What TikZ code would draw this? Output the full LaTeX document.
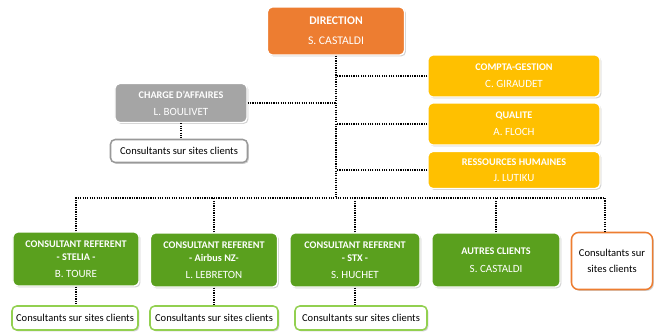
\documentclass[tikz,border=0pt]{standalone}
\usepackage{fontspec}
\setmainfont{Carlito}
\usepackage{tikz}
\usetikzlibrary{shadows}
\definecolor{orangedir}{RGB}{237,125,49}
\definecolor{grisca}{RGB}{165,165,165}
\definecolor{jaune}{RGB}{255,192,0}
\definecolor{vert}{RGB}{90,160,30}
\definecolor{vertclair}{RGB}{146,208,80}
\newcommand{\titre}[1]{{\fontsize{8.7}{11}\selectfont\bfseries #1}}
\newcommand{\nom}[1]{{\fontsize{9.4}{11}\selectfont #1}}

\begin{document}
\begin{tikzpicture}[x=0.03cm,y=-0.03cm,
box/.style={rounded corners=4pt,draw=white,line width=1.2pt,align=center,text=white,inner sep=0pt,
  font=\fontsize{9.4}{11}\selectfont,
  drop shadow={shadow xshift=1.2pt,shadow yshift=-1.2pt,fill=gray!70}},
sites/.style={box,fill=white,text=black,line width=1.3pt,font=\fontsize{9}{12}\selectfont},
lien/.style={line width=1pt,dash pattern=on 1pt off 1pt}]

\useasboundingbox (0,0) rectangle (654,331);

\node[box,fill=orangedir,minimum width=4.11cm,minimum height=1.44cm,font=\fontsize{10}{17}\selectfont] (dir) at (336,31) {\textbf{DIRECTION}\\S. CASTALDI};

\node[box,fill=grisca,minimum width=3.96cm,minimum height=1.17cm] (ca) at (181,103) {\titre{CHARGE D'AFFAIRES}\\[3.5pt]\nom{L. BOULIVET}};
\node[sites,draw=gray!80,minimum width=4.11cm,minimum height=0.69cm] (ca2) at (179,151) {Consultants sur sites clients};

\node[box,fill=jaune,minimum width=5.16cm,minimum height=1.26cm] (cg) at (514,76) {\titre{COMPTA-GESTION}\\[3.5pt]\nom{C. GIRAUDET}};
\node[box,fill=jaune,minimum width=5.16cm,minimum height=1.26cm] (qu) at (514,124) {\titre{QUALITE}\\[3.5pt]\nom{A. FLOCH}};
\node[box,fill=jaune,minimum width=5.16cm,minimum height=1.11cm] (rh) at (514,170) {\titre{RESSOURCES HUMAINES}\\[2.5pt]\nom{J. LUTIKU}};

\node[box,fill=vert,minimum width=3.78cm,minimum height=1.62cm] (c1) at (76,259) {\titre{CONSULTANT REFERENT}\\\titre{- STELIA -}\\[3.5pt]\nom{B. TOURE}};
\node[box,fill=vert,minimum width=3.81cm,minimum height=1.62cm] (c2) at (214,260) {\titre{CONSULTANT REFERENT}\\\titre{- Airbus NZ-}\\[3.5pt]\nom{L. LEBRETON}};
\node[box,fill=vert,minimum width=3.9cm,minimum height=1.62cm] (c3) at (355,260) {\titre{CONSULTANT REFERENT}\\\titre{- STX -}\\[3.5pt]\nom{S. HUCHET}};
\node[box,fill=vert,minimum width=3.84cm,minimum height=1.62cm] (c4) at (496,260) {\titre{AUTRES CLIENTS}\\[4pt]\nom{S. CASTALDI}};
\node[sites,draw=orangedir,minimum width=2.43cm,minimum height=1.71cm,rounded corners=6pt,font=\fontsize{9}{14}\selectfont] (c5) at (612,261) {Consultants sur\\sites clients};

\node[sites,draw=vertclair,minimum width=3.78cm,minimum height=0.72cm] (s1) at (75,318) {Consultants sur sites clients};
\node[sites,draw=vertclair,minimum width=3.84cm,minimum height=0.72cm] (s2) at (214,318) {Consultants sur sites clients};
\node[sites,draw=vertclair,minimum width=3.96cm,minimum height=0.72cm] (s3) at (361,318) {Consultants sur sites clients};

\coordinate (bus) at (336,198);
\coordinate (b5) at (605,198);

\draw[lien] (dir.south) -- (bus);
\draw[lien] (ca.east) -- (ca.east -| dir.south);
\draw[lien] (cg.west) -- (cg.west -| dir.south);
\draw[lien] (qu.west) -- (qu.west -| dir.south);
\draw[lien] (rh.west) -- (rh.west -| dir.south);
\draw[lien] (ca.south) -- (ca2.north -| ca.south);
\draw[lien] (c1.north) |- (b5) -- (b5 |- c5.north);
\draw[lien] (c2.north) -- (c2.north |- bus);
\draw[lien] (c3.north) -- (c3.north |- bus);
\draw[lien] (c4.north) -- (c4.north |- bus);
\draw[lien] (c1.south) -- (s1.north -| c1.south);
\draw[lien] (c2.south) -- (s2.north -| c2.south);
\draw[lien] (c3.south) -- (s3.north -| c3.south);
\end{tikzpicture}
\end{document}
